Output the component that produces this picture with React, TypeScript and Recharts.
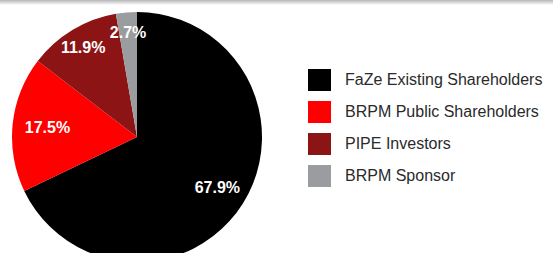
import { PieChart, Pie, Cell, Legend } from "recharts";

const groups = [
  "FaZe Existing Shareholders",
  "BRPM Public Shareholders",
  "PIPE Investors",
  "BRPM Sponsor",
];
const shares = [67.9, 17.5, 11.9, 2.7];
const colors = ["#000000", "#FF0000", "#8C1414", "#9A9CA0"];

const data = groups.map((name, i) => ({ name, value: shares[i] }));

// label distance from centre, per slice
const labelRadius = [95, 90, 104, 105];
const RADIAN = Math.PI / 180;

const renderLabel = (props: any) => {
  const { cx, cy, midAngle, index, value } = props;
  const r = labelRadius[index];
  const x = cx + r * Math.cos(-midAngle * RADIAN);
  const y = cy + r * Math.sin(-midAngle * RADIAN);
  return (
    <text
      x={x}
      y={y}
      fill="#FFFFFF"
      textAnchor="middle"
      dominantBaseline="central"
      style={{ fontSize: 16, fontWeight: 700, fontFamily: "Liberation Sans, Arial, sans-serif" }}
    >
      {value.toFixed(1)}%
    </text>
  );
};

const renderLegend = () => (
  <div style={{ fontFamily: "Liberation Sans, Arial, sans-serif" }}>
    {data.map((d, i) => (
      <div
        key={d.name}
        style={{ display: "flex", alignItems: "center", height: 32 }}
      >
        <div
          style={{
            width: 23,
            height: 22,
            backgroundColor: colors[i],
            marginRight: 14,
          }}
        />
        <span style={{ fontSize: 16, color: "#2a2a2a" }}>{d.name}</span>
      </div>
    ))}
  </div>
);

export default function App() {
  return (
    <div
      style={{
        position: "absolute",
        top: 0,
        left: 0,
        width: 553,
        height: 253,
        background: "white",
        overflow: "hidden",
      }}
    >
      <div
        style={{
          position: "absolute",
          top: 0,
          left: 0,
          width: 553,
          height: 5,
          background: "linear-gradient(#b5b5b5, #ffffff)",
        }}
      />
      <PieChart
        width={553}
        height={253}
        margin={{ top: 0, right: 0, bottom: 0, left: 0 }}
      >
        <Pie
          data={data}
          dataKey="value"
          nameKey="name"
          cx={137}
          cy={137}
          outerRadius={125}
          startAngle={90}
          endAngle={-270}
          stroke="none"
          label={renderLabel}
          labelLine={false}
          isAnimationActive={false}
        >
          {data.map((d, i) => (
            <Cell key={d.name} fill={colors[i]} />
          ))}
        </Pie>
        <Legend
          content={renderLegend}
          wrapperStyle={{ position: "absolute", left: 308, top: 64, width: 245 }}
        />
      </PieChart>
    </div>
  );
}
